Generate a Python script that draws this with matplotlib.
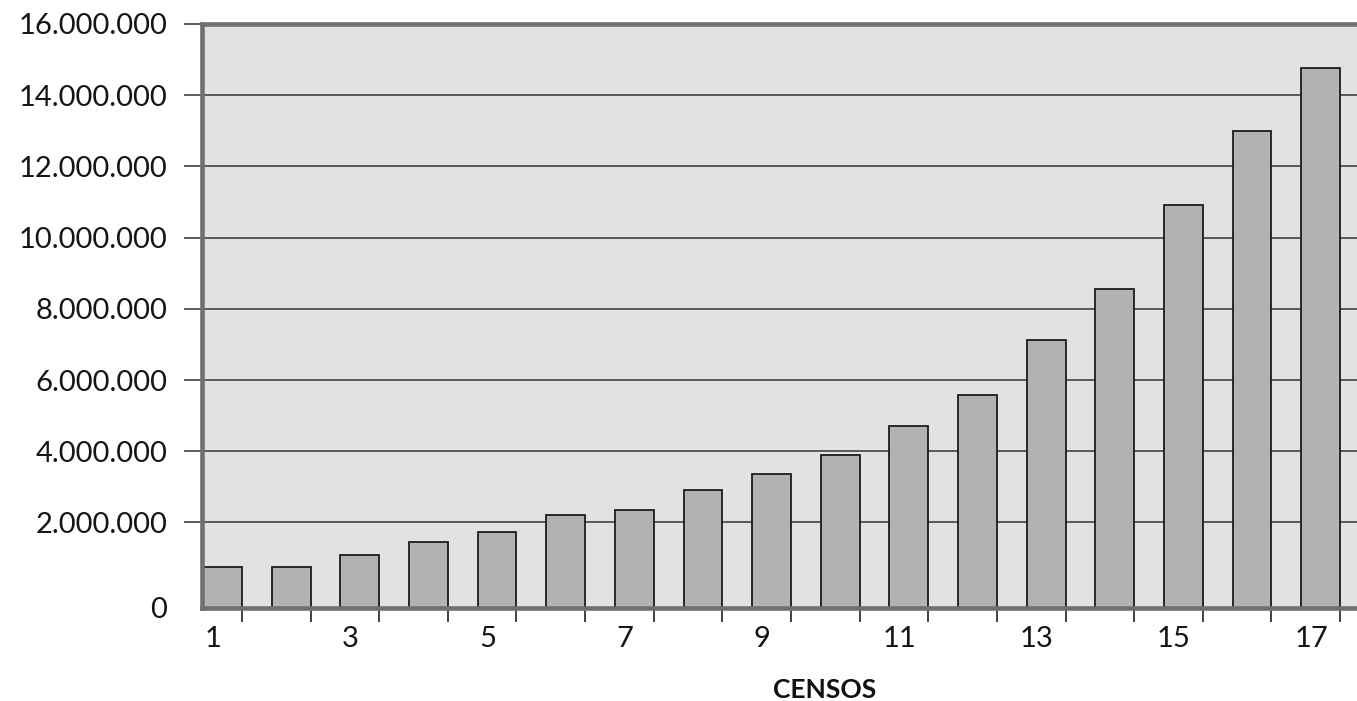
import matplotlib
matplotlib.use("Agg")
import matplotlib.pyplot as plt
import numpy as np

# ---- data ----
censos = list(range(1, 18))
poblacion = [760000, 760000, 1080000, 1440000, 1720000, 2210000, 2360000,
             2900000, 3370000, 3880000, 4700000, 5580000, 7110000, 8550000,
             10920000, 13000000, 14760000]
y_ticks = [2000000, 4000000, 6000000, 8000000, 10000000, 12000000, 14000000, 16000000]
y_labels = ["2.000.000", "4.000.000", "6.000.000", "8.000.000",
            "10.000.000", "12.000.000", "14.000.000", "16.000.000"]
x_labels = ["1", "3", "5", "7", "9", "11", "13", "15", "17"]
x_label_pos = [1, 3, 5, 7, 9, 11, 13, 15, 17]

plt.rcParams['font.family'] = ['Lato', 'DejaVu Sans']

fig = plt.figure(figsize=(13.57, 7.01), dpi=100)
ax = fig.add_axes([202/1357, 1 - 608/701, 1 - 202/1357, (608 - 24)/701])

ymin = -404000
ax.set_ylim(ymin, 16000000)
ax.set_xlim(0.70, 17.53)

x = np.array(censos)
vals = np.array(poblacion)
bw = 0.565
ax.bar(x, vals - ymin, bottom=ymin, width=bw, color="#b1b2b4",
       edgecolor="#1c1c1c", linewidth=1.3, zorder=3)

ax.set_facecolor("#e1e3e2")
ax.set_axisbelow(True)

# y axis
ax.set_yticks([ymin] + y_ticks)
ax.set_yticklabels(["0"] + y_labels, fontsize=21, color="#151515")
ax.tick_params(axis="y", length=13, width=1.1, color="#303030", pad=12)
ax.get_yticklines()[0].set_visible(False)
ax.get_yticklines()[1].set_visible(False)
ax.yaxis.grid(True, color="#333333", linewidth=1.1)

# x axis
ax.set_xticks([p - 0.14 for p in x_label_pos])
ax.set_xticklabels(x_labels, fontsize=21, color="#151515")
ax.tick_params(axis="x", which="major", length=0, pad=13)
ax.set_xticks(x + bw / 2, minor=True)
ax.tick_params(axis="x", which="minor", length=10, width=1.2, color="#202020")

for s in ["left", "top", "bottom"]:
    ax.spines[s].set_color("#707070")
    ax.spines[s].set_linewidth(3.3)
    ax.spines[s].set_zorder(4)
ax.spines["right"].set_visible(False)

fig.text(825/1357, 1 - 690/701, "CENSOS", fontsize=19, fontweight="bold",
         ha="center", va="center", color="#111111")

fig.savefig("out.png", dpi=100)
